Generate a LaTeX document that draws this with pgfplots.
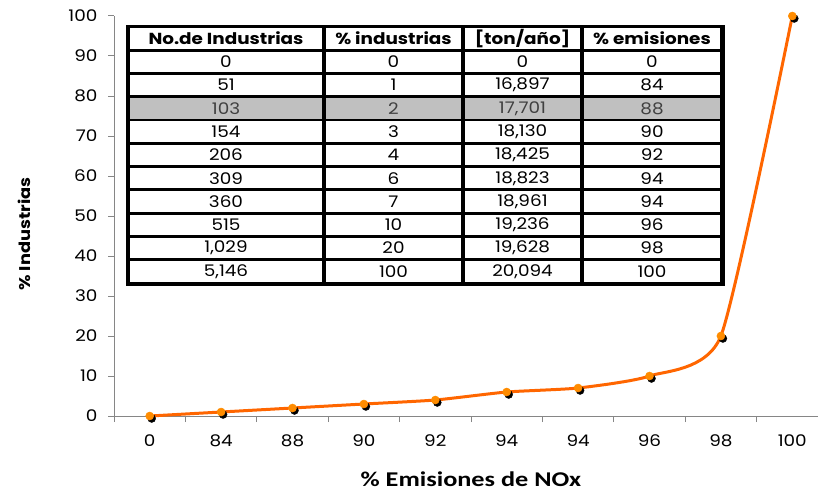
\documentclass[border=0pt]{standalone}
\usepackage{pgfplots}
\pgfplotsset{compat=1.18}
\usepackage{fontspec}
\setmainfont{Poppins}[FakeStretch=1.15]
\newfontfamily\calib{Carlito}[FakeStretch=1.25]
\definecolor{axgray}{RGB}{134,134,134}
\definecolor{lineor}{RGB}{255,102,0}
\definecolor{markor}{RGB}{255,140,0}
\definecolor{rowgray}{RGB}{192,192,192}
\definecolor{txtgray}{RGB}{64,64,64}
\newcommand\tonano{[ton/año]}
\begin{document}
\begin{tikzpicture}
\begin{axis}[
  at={(114pt,75pt)}, anchor=south west,
  width=704pt, height=400pt, scale only axis,
  xmin=-0.5, xmax=9.36, ymin=0, ymax=100,
  axis x line*=bottom, axis y line*=left,
  axis line style={draw=axgray, line width=1pt},
  every tick/.style={draw=axgray, line width=1pt},
  tick align=outside,
  major tick length=6pt, minor tick length=6pt,
  xtick={0,...,9},
  xticklabels={0,84,88,90,92,94,94,96,98,100},
  minor xtick={-0.5,0.5,...,8.5},
  major x tick style={draw=none},
  ytick={0,10,...,100},
  /pgf/number format/assume math mode=true,
  tick label style={font=\fontsize{16}{19}\selectfont, text=black},
  xticklabel style={yshift=-9pt},
  yticklabel style={xshift=-7pt},
  xlabel={\calib\bfseries \% Emisiones de NOx},
  ylabel={\bfseries \% Industrias},
  xlabel style={at={(axis description cs:0.507,-0.1575)}, anchor=center, font=\fontsize{21}{25}\selectfont},
  ylabel style={at={(axis description cs:-0.128,0.455)}, anchor=center, font=\fontsize{15.5}{19}\selectfont},
  clip=false,
]
\addplot[draw=none, mark=*, mark size=4pt, mark options={fill=black, draw=black}, xshift=2pt, yshift=-2.5pt]
  coordinates {(0,0) (1,1) (2,2) (3,3) (4,4) (5,6) (6,7) (7,10) (8,20) (9,100)};
\addplot[lineor, line width=3pt, smooth, tension=0.35, mark=*, mark size=4pt, mark options={fill=markor, draw=markor, line width=0.5pt}]
  coordinates {(0,0) (1,1) (2,2) (3,3) (4,4) (5,6) (6,7) (7,10) (8,20) (9,100)};
\end{axis}
% table
\fill[black] (125.5pt,205.5pt) rectangle (724.5pt,466pt);
\def\rowh{23.27}
\foreach \a/\b/\c/\d/\fc/\tc [count=\i from 0] in {
  {\bfseries No.de Industrias}/{\bfseries \% industrias}/{\bfseries\tonano}/{\bfseries \% emisiones}/white/black,
  0/0/0/0/white/black,
  51/1/{16,897}/84/white/black,
  103/2/{17,701}/88/rowgray/txtgray,
  154/3/{18,130}/90/white/black,
  206/4/{18,425}/92/white/black,
  309/6/{18,823}/94/white/black,
  360/7/{18,961}/94/white/black,
  515/10/{19,236}/96/white/black,
  {1,029}/20/{19,628}/98/white/black,
  {5,146}/100/{20,094}/100/white/black}{
  \pgfmathsetmacro\yt{464-\i*\rowh}
  \pgfmathsetmacro\yb{\yt-\rowh}
  \pgfmathsetmacro\ym{(\yt+\yb)/2}
  \foreach \xl/\xr/\txt in {128/324/\a, 324/463/\b, 463/582/\c, 582/722/\d}{
    \fill[\fc] (\xl pt+2.2pt,\yb pt+1.4pt) rectangle (\xr pt-2.2pt,\yt pt-1.4pt);
    \node[text=\tc, font=\fontsize{16}{19}\selectfont, inner sep=0pt, anchor=center] at ({(\xl+\xr)/2*1pt},\ym pt) {\txt};
  }
}
\pgfresetboundingbox
\path[use as bounding box] (0,0) rectangle (818pt,491pt);
\end{tikzpicture}
\end{document}
